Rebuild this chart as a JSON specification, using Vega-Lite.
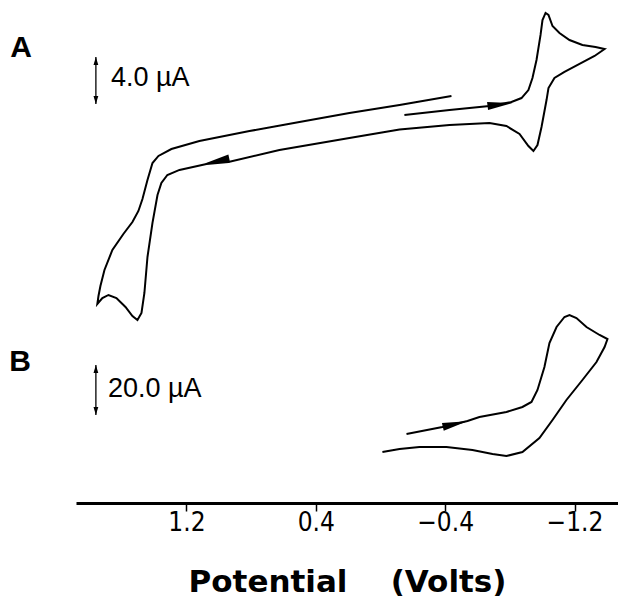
{
  "$schema": "https://vega.github.io/schema/vega-lite/v6.json",
  "width": 542,
  "height": 503,
  "autosize": {"type": "none"},
  "padding": {"left": 76, "top": 0, "right": 0, "bottom": 97},
  "background": "white",
  "config": {
    "view": {"stroke": null},
    "axisX": {
      "domainWidth": 3, "domainColor": "#000", "tickColor": "#000", "tickWidth": 1.5, "tickSize": 8,
      "labelFont": "Liberation Sans Narrow, DejaVu Sans Condensed, Liberation Sans", "labelFontSize": 26, "labelColor": "#000", "labelPadding": -2,
      "titleFont": "DejaVu Sans", "titleFontSize": 31, "titleFontWeight": "bold", "titleColor": "#000", "titlePadding": 32,
      "grid": false, "labelFlush": false
    }
  },
  "datasets": {
    "curveA": [
      {"k":1,"V":-0.148,"i":1.28},{"k":2,"V":-0.427,"i":1.70},{"k":3,"V":-0.674,"i":2.04},{"k":4,"V":-0.810,"i":2.38},
      {"k":5,"V":-0.872,"i":2.72},{"k":6,"V":-0.915,"i":3.40},{"k":7,"V":-0.940,"i":4.43},{"k":8,"V":-0.965,"i":5.96},
      {"k":9,"V":-0.990,"i":8.09},{"k":10,"V":-1.002,"i":9.36},{"k":11,"V":-1.021,"i":9.96},{"k":12,"V":-1.039,"i":9.79},
      {"k":13,"V":-1.064,"i":8.85},{"k":14,"V":-1.107,"i":8.26},{"k":15,"V":-1.169,"i":7.66},{"k":16,"V":-1.249,"i":7.23},
      {"k":17,"V":-1.330,"i":7.06},{"k":18,"V":-1.386,"i":6.89},{"k":19,"V":-1.324,"i":6.30},{"k":20,"V":-1.231,"i":5.62},
      {"k":21,"V":-1.138,"i":4.94},{"k":22,"V":-1.076,"i":4.43},{"k":23,"V":-1.039,"i":3.57},{"k":24,"V":-1.027,"i":2.55},
      {"k":25,"V":-0.996,"i":0.26},{"k":26,"V":-0.971,"i":-1.28},{"k":27,"V":-0.946,"i":-1.79},{"k":28,"V":-0.915,"i":-1.36},
      {"k":29,"V":-0.860,"i":-0.34},{"k":30,"V":-0.779,"i":0.34},{"k":31,"V":-0.674,"i":0.60},{"k":32,"V":-0.427,"i":0.43},
      {"k":33,"V":-0.118,"i":0.04},{"k":34,"V":0.192,"i":-0.68},{"k":35,"V":0.625,"i":-1.70},{"k":36,"V":0.940,"i":-2.72},
      {"k":37,"V":1.076,"i":-2.89},{"k":38,"V":1.243,"i":-3.40},{"k":39,"V":1.318,"i":-3.83},{"k":40,"V":1.355,"i":-4.51},
      {"k":41,"V":1.379,"i":-5.53},{"k":42,"V":1.410,"i":-7.91},{"k":43,"V":1.441,"i":-10.81},{"k":44,"V":1.460,"i":-13.87},
      {"k":45,"V":1.478,"i":-15.57},{"k":46,"V":1.503,"i":-16.17},{"k":47,"V":1.534,"i":-15.83},{"k":48,"V":1.577,"i":-15.06},
      {"k":49,"V":1.633,"i":-14.30},{"k":50,"V":1.682,"i":-14.04},{"k":51,"V":1.720,"i":-14.30},{"k":52,"V":1.751,"i":-14.81},
      {"k":53,"V":1.744,"i":-14.13},{"k":54,"V":1.732,"i":-13.28},{"k":55,"V":1.707,"i":-11.91},{"k":56,"V":1.658,"i":-10.21},
      {"k":57,"V":1.590,"i":-8.85},{"k":58,"V":1.534,"i":-7.83},{"k":59,"V":1.497,"i":-6.89},{"k":60,"V":1.472,"i":-5.87},
      {"k":61,"V":1.441,"i":-4.26},{"k":62,"V":1.410,"i":-2.81},{"k":63,"V":1.373,"i":-2.21},{"k":64,"V":1.293,"i":-1.62},
      {"k":65,"V":1.120,"i":-0.94},{"k":66,"V":0.810,"i":-0.09},{"k":67,"V":0.501,"i":0.68},{"k":68,"V":0.192,"i":1.45},
      {"k":69,"V":-0.118,"i":2.13},{"k":70,"V":-0.439,"i":2.89}
    ],
    "curveB": [
      {"k":1,"V":-0.161,"i":6.4},{"k":2,"V":-0.383,"i":9.2},{"k":3,"V":-0.538,"i":11.6},{"k":4,"V":-0.612,"i":13.2},
      {"k":5,"V":-0.779,"i":15.2},{"k":6,"V":-0.878,"i":17.2},{"k":7,"V":-0.934,"i":19.2},{"k":8,"V":-0.971,"i":24.0},
      {"k":9,"V":-1.014,"i":33.2},{"k":10,"V":-1.045,"i":42.8},{"k":11,"V":-1.089,"i":49.2},{"k":12,"V":-1.138,"i":53.2},
      {"k":13,"V":-1.169,"i":54.0},{"k":14,"V":-1.212,"i":52.8},{"k":15,"V":-1.274,"i":49.2},{"k":16,"V":-1.355,"i":46.0},
      {"k":17,"V":-1.404,"i":44.4},{"k":18,"V":-1.386,"i":41.2},{"k":19,"V":-1.336,"i":35.2},{"k":20,"V":-1.249,"i":28.0},
      {"k":21,"V":-1.150,"i":20.0},{"k":22,"V":-1.064,"i":12.0},{"k":23,"V":-0.983,"i":4.8},{"k":24,"V":-0.878,"i":-0.8},
      {"k":25,"V":-0.779,"i":-2.4},{"k":26,"V":-0.693,"i":-1.6},{"k":27,"V":-0.569,"i":0.0},{"k":28,"V":-0.408,"i":1.2},
      {"k":29,"V":-0.241,"i":1.2},{"k":30,"V":-0.118,"i":0.4},{"k":31,"V":-0.012,"i":-0.8}
    ],
    "barA": [{"V":1.76,"lo":2.21,"hi":6.21,"tx":1.667,"ty":4.43,"label":"4.0 µA","panel":"A","px":2.223,"py":7.02}],
    "barB": [{"V":1.76,"lo":14,"hi":34,"tx":1.685,"ty":24.4,"label":"20.0 µA","panel":"B","px":2.229,"py":35.2}],
    "arrowAright": [{"V":-0.739,"i":2.17}],
    "arrowAleft": [{"V":1.011,"i":-2.64}],
    "arrowB": [{"V":-0.461,"i":10.4}]
  },
  "layer": [
    {
      "layer": [
        {
          "data": {"name": "curveA"},
          "mark": {"type": "line", "color": "#000", "strokeWidth": 2},
          "encoding": {
            "x": {"field": "V", "type": "quantitative", "scale": {"domain": [-1.469, 1.883], "reverse": true, "nice": false, "zero": false},
                  "axis": {"values": [1.2, 0.4, -0.4, -1.2], "format": ".1f", "title": "Potential\u00a0\u00a0\u00a0\u00a0(Volts)"}},
            "y": {"field": "i", "type": "quantitative", "scale": {"domain": [-31.745, 11.064], "nice": false, "zero": false}, "axis": null},
            "order": {"field": "k", "type": "quantitative"}
          }
        },
        {
          "data": {"name": "arrowAright"},
          "mark": {"type": "point", "shape": "M1,0L-1,-0.32L-1,0.32Z", "size": 625, "angle": -7, "filled": true, "color": "#000", "opacity": 1},
          "encoding": {
            "x": {"field": "V", "type": "quantitative"},
            "y": {"field": "i", "type": "quantitative", "scale": {"domain": [-31.745, 11.064], "nice": false, "zero": false}, "axis": null}
          }
        },
        {
          "data": {"name": "arrowAleft"},
          "mark": {"type": "point", "shape": "M-1,0L1,-0.32L1,0.32Z", "size": 625, "angle": -12, "filled": true, "color": "#000", "opacity": 1},
          "encoding": {
            "x": {"field": "V", "type": "quantitative"},
            "y": {"field": "i", "type": "quantitative", "scale": {"domain": [-31.745, 11.064], "nice": false, "zero": false}, "axis": null}
          }
        },
        {
          "data": {"name": "barA"},
          "mark": {"type": "rule", "color": "#000", "strokeWidth": 1.3},
          "encoding": {
            "x": {"field": "V", "type": "quantitative"},
            "y": {"field": "lo", "type": "quantitative", "scale": {"domain": [-31.745, 11.064], "nice": false, "zero": false}, "axis": null},
            "y2": {"field": "hi"}
          }
        },
        {
          "data": {"name": "barA"},
          "mark": {"type": "point", "shape": "M0,-1L0.6,1L-0.6,1Z", "size": 64, "filled": true, "color": "#000", "opacity": 1, "yOffset": 4},
          "encoding": {
            "x": {"field": "V", "type": "quantitative"},
            "y": {"field": "hi", "type": "quantitative", "scale": {"domain": [-31.745, 11.064], "nice": false, "zero": false}, "axis": null}
          }
        },
        {
          "data": {"name": "barA"},
          "mark": {"type": "point", "shape": "M0,1L0.6,-1L-0.6,-1Z", "size": 64, "filled": true, "color": "#000", "opacity": 1, "yOffset": -4},
          "encoding": {
            "x": {"field": "V", "type": "quantitative"},
            "y": {"field": "lo", "type": "quantitative", "scale": {"domain": [-31.745, 11.064], "nice": false, "zero": false}, "axis": null}
          }
        },
        {
          "data": {"name": "barA"},
          "mark": {"type": "text", "align": "left", "baseline": "middle", "font": "Liberation Sans", "fontSize": 27, "color": "#000"},
          "encoding": {
            "x": {"field": "tx", "type": "quantitative"},
            "y": {"field": "ty", "type": "quantitative", "scale": {"domain": [-31.745, 11.064], "nice": false, "zero": false}, "axis": null},
            "text": {"field": "label"}
          }
        },
        {
          "data": {"name": "barA"},
          "mark": {"type": "text", "align": "center", "baseline": "middle", "font": "Liberation Sans", "fontWeight": "bold", "fontSize": 30, "color": "#000"},
          "encoding": {
            "x": {"field": "px", "type": "quantitative"},
            "y": {"field": "py", "type": "quantitative", "scale": {"domain": [-31.745, 11.064], "nice": false, "zero": false}, "axis": null},
            "text": {"field": "panel"}
          }
        }
      ]
    },
    {
      "layer": [
        {
          "data": {"name": "curveB"},
          "mark": {"type": "line", "color": "#000", "strokeWidth": 2},
          "encoding": {
            "x": {"field": "V", "type": "quantitative"},
            "y": {"field": "i", "type": "quantitative", "scale": {"domain": [-21.2, 180], "nice": false, "zero": false}, "axis": null},
            "order": {"field": "k", "type": "quantitative"}
          }
        },
        {
          "data": {"name": "arrowB"},
          "mark": {"type": "point", "shape": "M1,0L-1,-0.32L-1,0.32Z", "size": 625, "angle": -13, "filled": true, "color": "#000", "opacity": 1},
          "encoding": {
            "x": {"field": "V", "type": "quantitative"},
            "y": {"field": "i", "type": "quantitative", "scale": {"domain": [-21.2, 180], "nice": false, "zero": false}, "axis": null}
          }
        },
        {
          "data": {"name": "barB"},
          "mark": {"type": "rule", "color": "#000", "strokeWidth": 1.3},
          "encoding": {
            "x": {"field": "V", "type": "quantitative"},
            "y": {"field": "lo", "type": "quantitative", "scale": {"domain": [-21.2, 180], "nice": false, "zero": false}, "axis": null},
            "y2": {"field": "hi"}
          }
        },
        {
          "data": {"name": "barB"},
          "mark": {"type": "point", "shape": "M0,-1L0.6,1L-0.6,1Z", "size": 64, "filled": true, "color": "#000", "opacity": 1, "yOffset": 4},
          "encoding": {
            "x": {"field": "V", "type": "quantitative"},
            "y": {"field": "hi", "type": "quantitative", "scale": {"domain": [-21.2, 180], "nice": false, "zero": false}, "axis": null}
          }
        },
        {
          "data": {"name": "barB"},
          "mark": {"type": "point", "shape": "M0,1L0.6,-1L-0.6,-1Z", "size": 64, "filled": true, "color": "#000", "opacity": 1, "yOffset": -4},
          "encoding": {
            "x": {"field": "V", "type": "quantitative"},
            "y": {"field": "lo", "type": "quantitative", "scale": {"domain": [-21.2, 180], "nice": false, "zero": false}, "axis": null}
          }
        },
        {
          "data": {"name": "barB"},
          "mark": {"type": "text", "align": "left", "baseline": "middle", "font": "Liberation Sans", "fontSize": 27, "color": "#000"},
          "encoding": {
            "x": {"field": "tx", "type": "quantitative"},
            "y": {"field": "ty", "type": "quantitative", "scale": {"domain": [-21.2, 180], "nice": false, "zero": false}, "axis": null},
            "text": {"field": "label"}
          }
        },
        {
          "data": {"name": "barB"},
          "mark": {"type": "text", "align": "center", "baseline": "middle", "font": "Liberation Sans", "fontWeight": "bold", "fontSize": 30, "color": "#000"},
          "encoding": {
            "x": {"field": "px", "type": "quantitative"},
            "y": {"field": "py", "type": "quantitative", "scale": {"domain": [-21.2, 180], "nice": false, "zero": false}, "axis": null},
            "text": {"field": "panel"}
          }
        }
      ]
    }
  ],
  "resolve": {"scale": {"y": "independent"}}
}
